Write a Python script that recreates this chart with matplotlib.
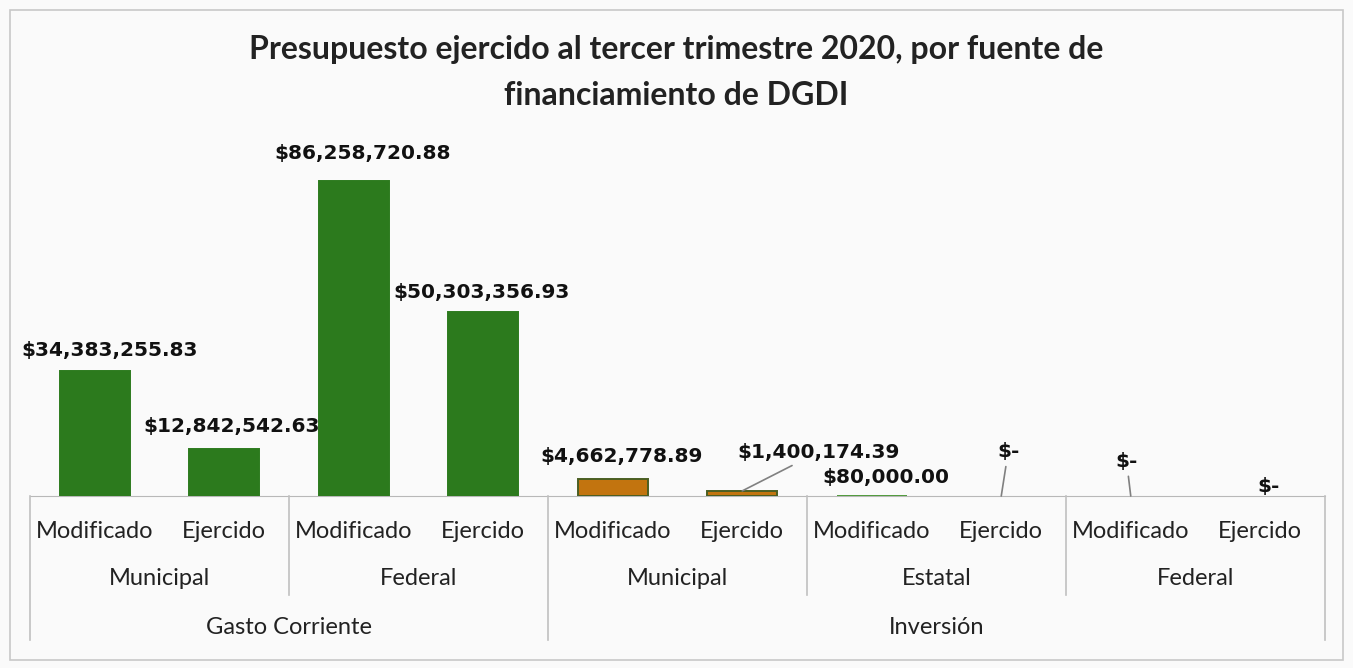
import numpy as np
import matplotlib.pyplot as plt
from matplotlib.patches import Rectangle

# Datos
etapas = ['Modificado', 'Ejercido'] * 5
fuentes = ['Municipal', 'Federal', 'Municipal', 'Estatal', 'Federal']
capitulos = ['Gasto Corriente', 'Inversión']
valores = [34383255.83, 12842542.63, 86258720.88, 50303356.93,
           4662778.89, 1400174.39, 80000.00, 0.0, 0.0, 0.0]
etiquetas = ['$34,383,255.83', '$12,842,542.63', '$86,258,720.88', '$50,303,356.93',
             '$4,662,778.89', '$1,400,174.39', '$80,000.00', '$-', '$-', '$-']

verde = '#2c7a1d'
naranja = '#c2740f'
colores = [verde] * 4 + [naranja] * 2 + [verde] * 4
bordes = [verde] * 4 + ['#4a5e22'] * 2 + ['#4f9a3a'] + ['none'] * 3

fig = plt.figure(figsize=(13.53, 6.68), dpi=100, facecolor='#fafafa')
ax = fig.add_axes([30 / 1353, 172 / 668, 1295 / 1353, 365 / 668])
ax.set_facecolor('none')

x = np.arange(len(valores))
ax.bar(x, valores, width=0.54, color=colores, edgecolor=bordes, linewidth=1.4)
ax.set_xlim(-0.5, len(valores) - 0.5)
ax.set_ylim(0, 100e6)
for s in ['top', 'right', 'left']:
    ax.spines[s].set_visible(False)
ax.spines['bottom'].set_color('#b8b8b8')
ax.spines['bottom'].set_zorder(0)
ax.set_yticks([])
ax.set_xticks([])

# Etiquetas de datos (desplazamientos en puntos)
desp = [(11, 14.5), (5, 16), (6.5, 20), (-1.5, 14.5),
        (6, 16), (55, 28), (10, 13), (5, 32), (-3, 25), (6, 7)]
lineas = [False, False, False, False, False, True, False, True, True, False]
for i, (v, t) in enumerate(zip(valores, etiquetas)):
    props = dict(arrowstyle='-', color='#808080', lw=1.2,
                 shrinkA=2, shrinkB=0) if lineas[i] else None
    ax.annotate(t, xy=(i, v), xytext=desp[i], textcoords='offset points',
                ha='center', va='center', fontsize=14.5, fontweight='bold',
                color='#111111', arrowprops=props)

# Ejes de categorias multinivel
tr = ax.get_xaxis_transform()
gris = '#c0c0c0'
y1, y2 = -0.271, -0.395
for b in [-0.5, 9.5]:
    ax.plot([b, b], [0, y2], color=gris, lw=1.2, transform=tr, clip_on=False)
ax.plot([3.5, 3.5], [0, y2], color=gris, lw=1.2, transform=tr, clip_on=False)
for b in [1.5, 5.5, 7.5]:
    ax.plot([b, b], [0, y1], color=gris, lw=1.2, transform=tr, clip_on=False)

fuente_cat = ['Lato', 'DejaVu Sans']
for i, e in enumerate(etapas):
    ax.text(i, -0.096, e, transform=tr, ha='center', va='center',
            fontsize=17, family=fuente_cat, color='#222222')
for j, f in enumerate(fuentes):
    ax.text(2 * j + 0.5, -0.225, f, transform=tr, ha='center', va='center',
            fontsize=17, family=fuente_cat, color='#222222')
ax.text(1.5, -0.359, capitulos[0], transform=tr, ha='center', va='center',
        fontsize=17, family=fuente_cat, color='#222222')
ax.text(6.5, -0.359, capitulos[1], transform=tr, ha='center', va='center',
        fontsize=17, family=fuente_cat, color='#222222')

# Titulo
fig.text(0.5, 0.8915, 'Presupuesto ejercido al tercer trimestre 2020, por fuente de\nfinanciamiento de DGDI',
         ha='center', va='center', fontsize=23, fontweight='bold',
         family=['Lato', 'DejaVu Sans'], color='#222222', linespacing=1.72)

# Marco del grafico
fig.patches.append(Rectangle((10 / 1353, 8 / 668), 1333 / 1353, 650 / 668,
                             transform=fig.transFigure, fill=False,
                             edgecolor='#c8c8c8', lw=1.2))

fig.savefig('out.png', dpi=100, facecolor=fig.get_facecolor())
